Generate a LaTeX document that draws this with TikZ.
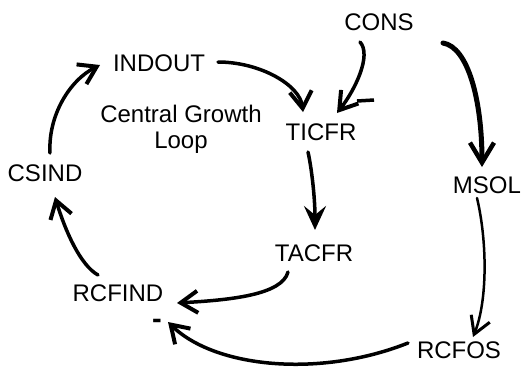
\documentclass[tikz,border=0pt]{standalone}
\usepackage{fontspec}
\setmainfont{Liberation Sans}
\usetikzlibrary{arrows.meta,calc}
\begin{document}
\begin{tikzpicture}[x=1pt,y=-1pt,
  var/.style={inner sep=0pt,font=\fontsize{24}{26}\selectfont},
  link/.style={line width=3.5pt,line cap=round,
    -{Straight Barb[length=17pt,width=22pt,line width=4pt]}},
  solidlink/.style={link,
    -{Stealth[length=24pt,width=22pt,inset=9pt]}},
  heavylink/.style={link,line width=5pt,
    -{Straight Barb[length=20pt,width=24pt,line width=4.5pt]}},
  lightlink/.style={link,line width=2.5pt,
    -{Straight Barb[length=17pt,width=20pt,line width=3pt]}},
  minus/.style={inner sep=0pt,font=\fontsize{29}{29}\bfseries\selectfont}]
\useasboundingbox (0,0) rectangle (523,368);

% variables
\node[var] (cons)   at (379,22)  {CONS};
\node[var] (indout) at (159,63)  {INDOUT};
\node[var] (ticfr)  at (321,132) {TICFR};
\node[var] (csind)  at (45,173)  {CSIND};
\node[var] (msol)   at (487,185) {MSOL};
\node[var] (tacfr)  at (314,253) {TACFR};
\node[var] (rcfind) at (118,293) {RCFIND};
\node[var] (rcfos)  at (459,350) {RCFOS};
\node[var,align=center,anchor=base] (loop) at (181,148) {Central Growth\\Loop};

% causal links
\draw[link] ($(indout)+(59,-1)$) .. controls +(42,0) and +(-3,-27) .. ($(ticfr)+(-18,-20)$);
\draw[link] ($(cons)+(-19,20)$) .. controls +(12,13) and +(18,-23) .. ($(ticfr)+(16,-19)$);
\draw[heavylink] ($(cons)+(64,21)$) .. controls +(25,4) and +(0,-67) .. ($(msol)+(-5,-18)$);
\draw[solidlink] ($(ticfr)+(-13,20)$) .. controls +(4,18) and +(0,-30) .. ($(tacfr)+(1,-23)$);
\draw[lightlink] ($(msol)+(-10,13)$) .. controls +(10,42) and +(15,-37) .. ($(rcfos)+(14,-13)$);
\draw[link] ($(tacfr)+(-26,19)$) .. controls +(-6,23) and +(53,-3) .. ($(rcfind)+(59,10)$);
\draw[link] ($(rcfos)+(-51,-7)$) .. controls +(-88,35) and +(47,46) .. ($(rcfind)+(50,29)$);
\draw[link] ($(rcfind)+(-20,-18)$) .. controls +(-18,-10) and +(10,33) .. ($(csind)+(10,24)$);
\draw[link] ($(csind)+(5,-20)$) .. controls +(-2,-38) and +(-30,15) .. ($(indout)+(-59,2)$);

% polarity signs
\coordinate (ma) at ($(ticfr)+(36,-31)$);
\coordinate (mb) at ($(ticfr)+(53,-32)$);
\draw[line width=3.5pt] (ma) -- (mb);
\node[minus,anchor=base] (neg) at ($(rcfind)+(39,35)$) {-};
\end{tikzpicture}
\end{document}
